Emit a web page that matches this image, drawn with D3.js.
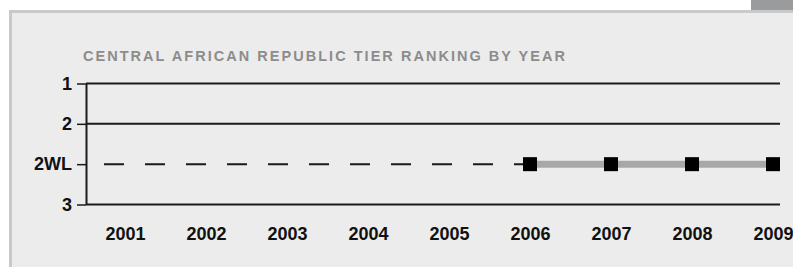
<!DOCTYPE html>
<html>
<head>
<meta charset="utf-8">
<script src="https://cdn.jsdelivr.net/npm/d3@7"></script>
<style>
  body{margin:0;background:#fff;}
  svg{display:block;font-family:"Liberation Sans",Arial,Helvetica,sans-serif;}
</style>
</head>
<body>
<div id="chart"></div>
<script>
// data
const years = ['2001','2002','2003','2004','2005','2006','2007','2008','2009'];
const tiers = ['1','2','2WL','3'];
const rankedYears = ['2006','2007','2008','2009'];
const rankedTiers = ['2WL','2WL','2WL','2WL'];
const solidTiers = ['1','2','3'];

const W=793,H=267;
const svg = d3.select('#chart').append('svg').attr('width',W).attr('height',H);

// panel
svg.append('rect').attr('x',0).attr('y',0).attr('width',W).attr('height',H).attr('fill','#fff');
svg.append('rect').attr('x',751).attr('y',0).attr('width',42).attr('height',11).attr('fill','#9a9b9d');
svg.append('rect').attr('x',10.5).attr('y',11.5).attr('width',W).attr('height',H).attr('fill','#ececec')
   .attr('stroke','#c9c9c9').attr('stroke-width',3);

const x = d3.scalePoint().domain(years).range([125,773]);
const y = d3.scalePoint().domain(tiers).range([83.5,204.5]);
const x0 = 86, x1 = 780;

const title = svg.append('text').attr('x',83).attr('y',61)
   .attr('fill','#8c8c8c').attr('font-size',14.5).attr('font-weight','bold')
   .text('CENTRAL AFRICAN REPUBLIC TIER RANKING BY YEAR');
// stretch the title with letter spacing so it ends where the original does
const txt = title.text();
const natural = title.node().getComputedTextLength();
title.attr('letter-spacing',((482-natural)/(txt.length-1))+'px');

// solid grid lines
svg.append('g').selectAll('line').data(solidTiers).enter().append('line')
   .attr('x1',x0).attr('x2',x1)
   .attr('y1',d=>y(d)).attr('y2',d=>y(d))
   .attr('stroke','#1a1a1a').attr('stroke-width',2);

// y axis
const yAxis = svg.append('g').attr('transform','translate('+x0+',0)')
   .call(d3.axisLeft(y).tickSize(9).tickSizeOuter(0).tickPadding(5));
yAxis.select('.domain').attr('stroke','#1a1a1a').attr('stroke-width',2);
yAxis.selectAll('.tick line').attr('stroke','#1a1a1a').attr('stroke-width',1.5);
yAxis.selectAll('.tick text').attr('font-size',18).attr('font-weight','bold').attr('fill','#111')
   .attr('font-family','"Liberation Sans",Arial,sans-serif');

// x labels
const xAxis = svg.append('g').attr('transform','translate(0,'+y('3')+')')
   .call(d3.axisBottom(x).tickSize(0).tickPadding(23));
xAxis.select('.domain').remove();
xAxis.selectAll('.tick text').attr('font-size',18).attr('font-weight','bold').attr('fill','#111')
   .attr('font-family','"Liberation Sans",Arial,sans-serif');

// dashed line for years with no ranking
svg.append('line')
   .attr('x1',x(years[0])-21).attr('x2',x(rankedYears[0]))
   .attr('y1',y('2WL')).attr('y2',y('2WL'))
   .attr('stroke','#1a1a1a').attr('stroke-width',2).attr('stroke-dasharray','20,21');

// ranking line
const line = d3.line().x((d,i)=>x(rankedYears[i])).y(d=>y(d));
svg.append('path').datum(rankedTiers).attr('d',line)
   .attr('fill','none').attr('stroke','#a7a8aa').attr('stroke-width',7);

svg.append('g').selectAll('rect').data(rankedTiers).enter().append('rect')
   .attr('x',(d,i)=>x(rankedYears[i])-7).attr('y',d=>y(d)-7)
   .attr('width',14).attr('height',14).attr('fill','#000');
</script>
</body>
</html>
